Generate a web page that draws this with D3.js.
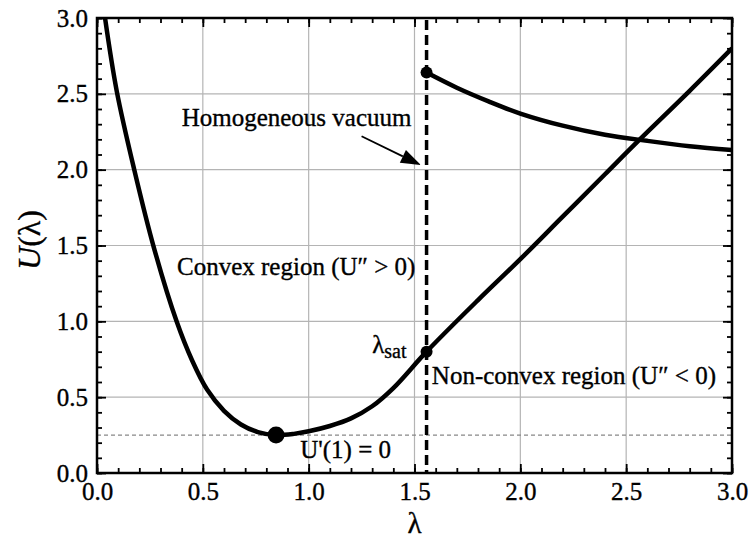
<!DOCTYPE html>
<html><head><meta charset="utf-8">
<script src="https://cdn.jsdelivr.net/npm/d3@7"></script>
<style>
html,body{margin:0;padding:0;background:#fff;}
text{font-family:"Liberation Serif","Times New Roman",serif;fill:#000;stroke:#000;stroke-width:0.35px;}
</style></head>
<body><svg id="c" width="753" height="540"></svg>
<script>
// ---- data ----
const lowerLambda = [0.038,0.093,0.176,0.27,0.376,0.45,0.52,0.60,0.68,0.76,0.846,0.93,1.0,1.1,1.2,1.3,1.4,1.557,1.8,2.0,2.2,2.4,2.55,2.8,3.0];
const lowerU      = [3.0,2.52,2.0,1.48,1.0,0.74,0.55,0.41,0.32,0.27,0.25,0.258,0.275,0.31,0.36,0.44,0.56,0.80,1.14,1.41,1.69,1.97,2.18,2.52,2.80];
const upperLambda = [1.557,1.7,1.85,2.0,2.2,2.4,2.6,2.8,3.0];
const upperU      = [2.64,2.54,2.45,2.37,2.29,2.23,2.19,2.155,2.13];
const lambdaSat = 1.557;
const minPoint = [0.846, 0.25];
const satPoint = [1.557, 0.80];
const vacuumPoint = [1.557, 2.64];
const baselineU = 0.25;
const xTicks = [0.0,0.5,1.0,1.5,2.0,2.5,3.0];
const yTicks = [0.0,0.5,1.0,1.5,2.0,2.5,3.0];
const xLabel = "λ";

const L=97,R=732,T=18,B=473;
const svg=d3.select("#c");
const x=d3.scaleLinear().domain([0,3]).range([L,R]);
const y=d3.scaleLinear().domain([0,3]).range([B,T]);
const minor=d3.range(0,3.0001,0.1).map(v=>+v.toFixed(1));

// grid
const g=svg.append("g");
g.selectAll(".gx").data(xTicks.slice(1,-1)).join("line")
 .attr("x1",d=>x(d)).attr("x2",d=>x(d)).attr("y1",T).attr("y2",B)
 .attr("stroke","#b4b4b4").attr("stroke-width",1.2);
g.selectAll(".gy").data(yTicks.slice(1,-1)).join("line")
 .attr("y1",d=>y(d)).attr("y2",d=>y(d)).attr("x1",L).attr("x2",R)
 .attr("stroke","#b4b4b4").attr("stroke-width",1.2);
svg.append("line").attr("x1",L).attr("x2",R).attr("y1",y(baselineU)).attr("y2",y(baselineU))
 .attr("stroke","#888").attr("stroke-width",1.2).attr("stroke-dasharray","4,3");

// axes ticks (inward)
function axisStyle(sel){sel.select(".domain").remove();sel.selectAll("line").attr("stroke","#000").attr("stroke-width",1.8);}
const fmt=d3.format(".1f");
svg.append("g").attr("transform",`translate(0,${B})`).call(d3.axisBottom(x).tickValues(minor).tickSize(-5).tickFormat("")).call(axisStyle);
svg.append("g").attr("transform",`translate(0,${B})`).call(d3.axisBottom(x).tickValues(xTicks).tickSize(-9).tickPadding(5).tickFormat(fmt)).call(axisStyle)
 .selectAll("text").attr("font-size",25).attr("dy","0.88em").attr("font-family","Liberation Serif");
svg.append("g").attr("transform",`translate(0,${T})`).call(d3.axisTop(x).tickValues(minor).tickSize(-5).tickFormat("")).call(axisStyle);
svg.append("g").attr("transform",`translate(0,${T})`).call(d3.axisTop(x).tickValues(xTicks).tickSize(-9).tickFormat("")).call(axisStyle);
svg.append("g").attr("transform",`translate(${L},0)`).call(d3.axisLeft(y).tickValues(minor).tickSize(-5).tickFormat("")).call(axisStyle);
svg.append("g").attr("transform",`translate(${L},0)`).call(d3.axisLeft(y).tickValues(yTicks).tickSize(-9).tickPadding(9).tickFormat(fmt)).call(axisStyle)
 .selectAll("text").attr("font-size",25).attr("font-family","Liberation Serif");
svg.append("g").attr("transform",`translate(${R},0)`).call(d3.axisRight(y).tickValues(minor).tickSize(-5).tickFormat("")).call(axisStyle);
svg.append("g").attr("transform",`translate(${R},0)`).call(d3.axisRight(y).tickValues(yTicks).tickSize(-9).tickFormat("")).call(axisStyle);

// clip
svg.append("clipPath").attr("id","clip").append("rect").attr("x",L).attr("y",T).attr("width",R-L).attr("height",B-T);

const line=d3.line().x(d=>x(d[0])).y(d=>y(d[1])).curve(d3.curveCatmullRom.alpha(0.5));
const lower=lowerLambda.map((l,i)=>[l,lowerU[i]]);
const upper=upperLambda.map((l,i)=>[l,upperU[i]]);
const pg=svg.append("g").attr("clip-path","url(#clip)");
pg.append("path").datum(lower).attr("d",line).attr("fill","none").attr("stroke","#000").attr("stroke-width",4.5);
pg.append("path").datum(upper).attr("d",line).attr("fill","none").attr("stroke","#000").attr("stroke-width",4.5);

// vertical dashed line at lambda_sat
svg.append("line").attr("x1",x(lambdaSat)).attr("x2",x(lambdaSat)).attr("y1",T+2).attr("y2",B)
 .attr("stroke","#000").attr("stroke-width",3.5).attr("stroke-dasharray","10,5");

// dots
svg.append("circle").attr("cx",x(minPoint[0])).attr("cy",y(minPoint[1])).attr("r",8.5).attr("fill","#000");
svg.append("circle").attr("cx",x(satPoint[0])).attr("cy",y(satPoint[1])).attr("r",6).attr("fill","#000");
svg.append("circle").attr("cx",x(vacuumPoint[0])).attr("cy",y(vacuumPoint[1])).attr("r",6).attr("fill","#000");

// frame
svg.append("rect").attr("x",L).attr("y",T).attr("width",R-L).attr("height",B-T)
 .attr("fill","none").attr("stroke","#000").attr("stroke-width",2.5);

// arrow
(function(){
 const x1=x(1.25),y1=y(2.22),x2=x(1.53),y2=y(2.03);
 const a=Math.atan2(y2-y1,x2-x1),len=20,w=7;
 const bx=x2-len*Math.cos(a),by=y2-len*Math.sin(a);
 svg.append("line").attr("x1",x1).attr("y1",y1).attr("x2",bx).attr("y2",by).attr("stroke","#000").attr("stroke-width",1.8);
 svg.append("path").attr("d",`M${x2},${y2} L${bx+w*Math.sin(a)},${by-w*Math.cos(a)} L${bx-w*Math.sin(a)},${by+w*Math.cos(a)} Z`).attr("fill","#000");
})();

// annotations
const ann=svg.append("g").attr("font-size",25);
ann.append("text").attr("x",x(0.40)).attr("y",y(2.29)).text("Homogeneous vacuum");
ann.append("text").attr("x",x(0.378)).attr("y",y(1.305)).text("Convex region (U″ > 0)");
ann.append("text").attr("x",x(1.582)).attr("y",y(0.587)).text("Non-convex region (U″ < 0)");
ann.append("text").attr("x",x(0.96)).attr("y",y(0.10)).text("U'(1) = 0");
const ls=ann.append("text").attr("x",x(1.30)).attr("y",y(0.79));
ls.append("tspan").text("λ");
ls.append("tspan").attr("font-size",20).attr("dy",5).text("sat");

// axis labels
svg.append("text").attr("x",(L+R)/2).attr("y",533).attr("text-anchor","middle").attr("font-size",29).text(xLabel);
svg.append("text").attr("transform",`translate(40,240) rotate(-90)`).attr("text-anchor","middle").attr("font-size",32)
 .html('<tspan font-style="italic">U</tspan>(λ)');
</script></body></html>
